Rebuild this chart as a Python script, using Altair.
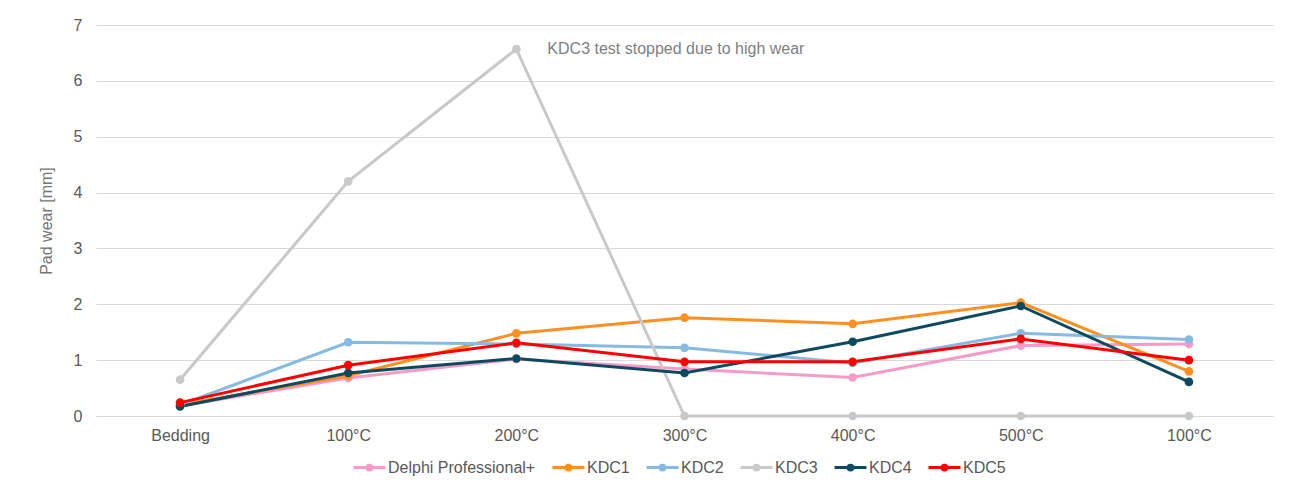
import altair as alt
import pandas as pd

categories = ["Bedding", "100°C", "200°C", "300°C", "400°C", "500°C", "100°C"]
series = ["Delphi Professional+", "KDC1", "KDC2", "KDC3", "KDC4", "KDC5"]
colors = ["#F59BC8", "#FF8F1F", "#85BBE3", "#C9C9C9", "#0D4A5F", "#FF0000"]

delphi = [0.18, 0.68, 1.02, 0.84, 0.69, 1.26, 1.29]
kdc1 = [0.20, 0.72, 1.48, 1.76, 1.65, 2.03, 0.80]
kdc2 = [0.20, 1.32, 1.29, 1.22, 0.95, 1.48, 1.37]
kdc3 = [0.65, 4.20, 6.57, 0.0, 0.0, 0.0, 0.0]
kdc4 = [0.17, 0.77, 1.03, 0.77, 1.33, 1.97, 0.61]
kdc5 = [0.24, 0.91, 1.31, 0.97, 0.97, 1.38, 1.00]

note_text = ["KDC3 test stopped due to high wear"]
note_idx = [2]
note_val = [6.57]

values = [delphi, kdc1, kdc2, kdc3, kdc4, kdc5]
rows = []
for s, vals in zip(series, values):
    for i, v in enumerate(vals):
        rows.append({"idx": i, "series": s, "value": v})
df = pd.DataFrame(rows)

label_expr = "[" + ",".join("'" + c + "'" for c in categories) + "][datum.value]"

font = "Liberation Sans"

x = alt.X(
    "idx:O",
    title=None,
    scale=alt.Scale(paddingInner=0, paddingOuter=0.5, padding=0.5),
    axis=alt.Axis(
        labelExpr=label_expr,
        labelAngle=0,
        labelFontSize=16,
        labelColor="#595959",
        labelFont=font,
        labelPadding=11,
        ticks=False,
        domain=True,
        domainColor="#D9D9D9",
        grid=False,
    ),
)
y = alt.Y(
    "value:Q",
    title="Pad wear [mm]",
    scale=alt.Scale(domain=[0, 7], nice=False),
    axis=alt.Axis(
        values=[0, 1, 2, 3, 4, 5, 6, 7],
        format="d",
        labelFontSize=16,
        labelColor="#595959",
        labelFont=font,
        labelPadding=14,
        ticks=False,
        domain=False,
        gridColor="#D9D9D9",
        titleFont=font,
        titleFontSize=16,
        titleFontWeight="normal",
        titleColor="#767676",
        titlePadding=19,
    ),
)

sym = "M-1,0H1M-0.15,0a0.15,0.15 0 1,0 0.3,0a0.15,0.15 0 1,0 -0.3,0"

lines = alt.Chart(df).mark_line(
    strokeWidth=3,
    point=alt.OverlayMarkDef(filled=True, size=75, opacity=1),
).encode(
    x=x,
    y=y,
    color=alt.Color(
        "series:N",
        sort=series,
        scale=alt.Scale(domain=series, range=colors),
        legend=alt.Legend(
            title=None,
            orient="none",
            legendX=256,
            legendY=425,
            direction="horizontal",
            symbolType=sym,
            symbolSize=1024,
            symbolStrokeWidth=3,
            labelFontSize=16,
            labelFont=font,
            labelColor="#595959",
            labelOffset=1,
            columnPadding=10,
        ),
    ),
    order=alt.Order("series:N"),
)

note_df = pd.DataFrame({"idx": note_idx, "value": note_val, "text": note_text})
note = alt.Chart(note_df).mark_text(
    align="left", baseline="middle", dx=31, fontSize=16, font=font, color="#7F7F7F"
).encode(x=alt.X("idx:O"), y=alt.Y("value:Q"), text="text:N")

chart = alt.layer(lines, note).properties(
    width=1177,
    height=391,
    padding={"left": 30, "top": 9, "right": 5, "bottom": 5},
).configure_view(stroke=None)

chart.save("out.html", embed_options={"renderer": "svg", "actions": False})
